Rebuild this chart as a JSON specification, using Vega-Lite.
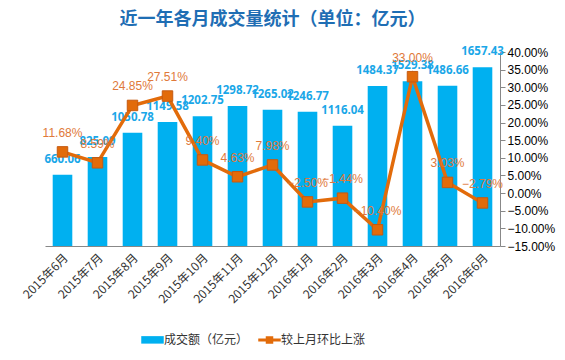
{
  "$schema": "https://vega.github.io/schema/vega-lite/v6.json",
  "width": 455,
  "height": 194,
  "autosize": "none",
  "padding": {"left": 45, "top": 52, "right": 65, "bottom": 114},
  "background": "white",
  "title": {
    "text": "近一年各月成交量统计（单位：亿元）",
    "font": "Noto Sans CJK SC",
    "fontSize": 18,
    "fontWeight": "bold",
    "color": "#1F6EB4",
    "anchor": "middle",
    "offset": 17
  },
  "config": {"view": {"stroke": null}},
  "data": {
    "values": [
      {"month": "2015年6月", "amount": 660.06, "growth": 0.1168},
      {"month": "2015年7月", "amount": 825.09, "growth": 0.0859},
      {"month": "2015年8月", "amount": 1050.78, "growth": 0.2485},
      {"month": "2015年9月", "amount": 1149.58, "growth": 0.2751},
      {"month": "2015年10月", "amount": 1202.75, "growth": 0.0940},
      {"month": "2015年11月", "amount": 1298.72, "growth": 0.0463},
      {"month": "2015年12月", "amount": 1265.02, "growth": 0.0798},
      {"month": "2016年1月", "amount": 1246.77, "growth": -0.0250},
      {"month": "2016年2月", "amount": 1116.04, "growth": -0.0144},
      {"month": "2016年3月", "amount": 1484.37, "growth": -0.1040},
      {"month": "2016年4月", "amount": 1529.38, "growth": 0.3300},
      {"month": "2016年5月", "amount": 1486.66, "growth": 0.0303},
      {"month": "2016年6月", "amount": 1657.43, "growth": -0.0279}
    ]
  },
  "encoding": {
    "x": {
      "field": "month",
      "type": "ordinal",
      "sort": null,
      "scale": {"paddingInner": 0.44, "paddingOuter": 0.22},
      "axis": {
        "title": null,
        "labelAngle": -45,
        "labelFont": "Noto Sans CJK SC",
        "labelFontSize": 12,
        "labelColor": "#333333",
        "ticks": false,
        "domainColor": "#888888",
        "labelPadding": 6
      }
    }
  },
  "layer": [
    {
      "encoding": {
        "y": {
          "field": "amount",
          "type": "quantitative",
          "scale": {"domain": [0, 1800], "nice": false},
          "axis": null
        }
      },
      "layer": [
        {
          "mark": {"type": "bar", "color": "#00B0F0"},
          "encoding": {
            "color": {
              "datum": "成交额（亿元）",
              "scale": {
                "domain": ["成交额（亿元）", "较上月环比上涨"],
                "range": ["#00B0F0", "#E26B0A"]
              },
              "legend": {
                "title": null,
                "orient": "none",
                "legendX": 99,
                "legendY": 279,
                "direction": "horizontal",
                "labelFont": "Noto Sans CJK SC",
                "labelFontSize": 12,
                "labelColor": "#333333",
                "symbolSize": 225,
                "labelOffset": 3,
                "columnPadding": 6,
                "encode": {
                  "symbols": {
                    "update": {
                      "shape": {"signal": "datum.value == '成交额（亿元）' ? 'M-1.5,-0.5H1.5V0.5H-1.5Z' : 'M-1.5,-0.2H-0.5V-0.5H0.5V-0.2H1.5V0.2H0.5V0.5H-0.5V0.2H-1.5Z'"},
                      "fill": {"signal": "datum.value == '成交额（亿元）' ? '#00B0F0' : '#E26B0A'"},
                      "stroke": {"value": "transparent"},
                      "fillOpacity": {"value": 1},
                      "opacity": {"value": 1}
                    }
                  }
                }
              }
            }
          }
        },
        {
          "mark": {
            "type": "text",
            "baseline": "middle",
            "dy": -15,
            "font": "Noto Sans",
            "fontSize": 11.5,
            "fontWeight": "bold",
            "color": "#1AA7E8"
          },
          "encoding": {
            "text": {"field": "amount", "type": "quantitative", "format": ".2f"}
          }
        }
      ]
    },
    {
      "encoding": {
        "y": {
          "field": "growth",
          "type": "quantitative",
          "scale": {"domain": [-0.15, 0.40], "nice": false},
          "axis": {
            "orient": "right",
            "title": null,
            "values": [-0.15, -0.10, -0.05, 0, 0.05, 0.10, 0.15, 0.20, 0.25, 0.30, 0.35, 0.40],
            "format": ".2%",
            "labelFont": "Liberation Sans",
            "labelFontSize": 12,
            "labelColor": "#000000",
            "grid": false,
            "domainColor": "#888888",
            "tickColor": "#888888",
            "tickSize": 5,
            "labelPadding": 2
          }
        }
      },
      "layer": [
        {
          "mark": {"type": "line", "color": "#E26B0A", "strokeWidth": 3.5}
        },
        {
          "mark": {
            "type": "point",
            "shape": "square",
            "filled": true,
            "size": 110,
            "color": "#E26B0A",
            "stroke": "#C55A11",
            "strokeWidth": 1,
            "opacity": 1
          }
        },
        {
          "mark": {
            "type": "text",
            "baseline": "middle",
            "dy": -19,
            "font": "Liberation Sans",
            "fontSize": 12,
            "color": "#E0793A"
          },
          "encoding": {
            "text": {"field": "growth", "type": "quantitative", "format": ".2%"}
          }
        }
      ]
    }
  ],
  "resolve": {"scale": {"y": "independent", "color": "independent"}}
}
